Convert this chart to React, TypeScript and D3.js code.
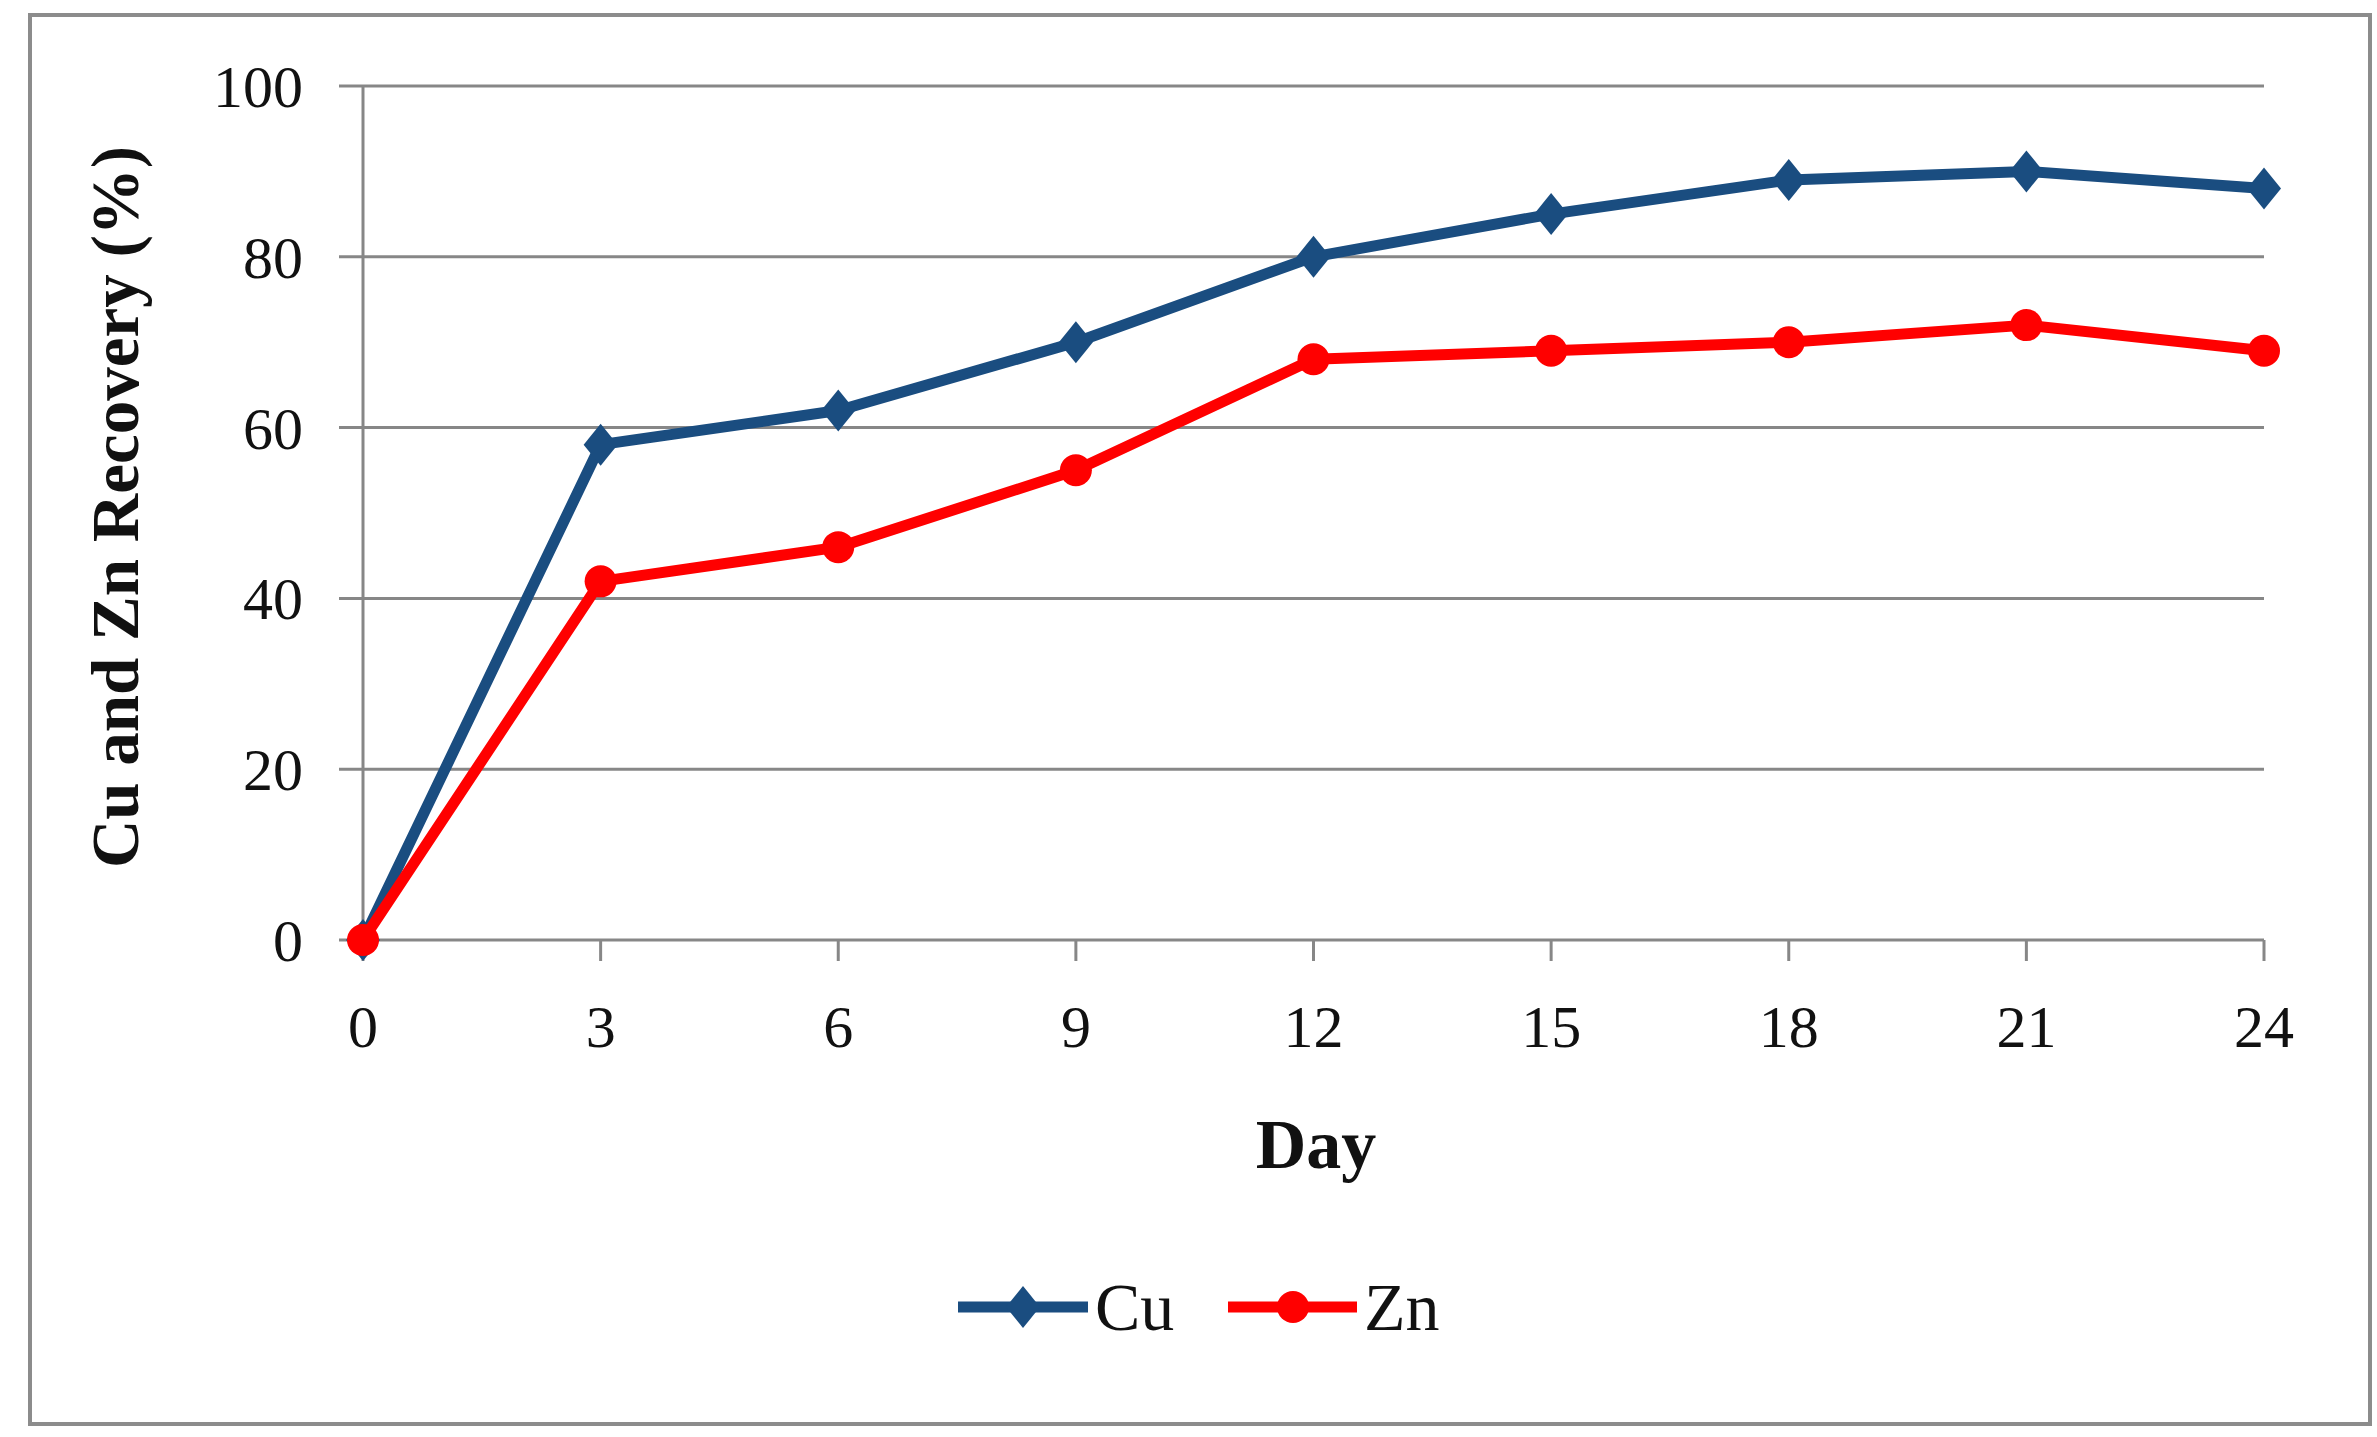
import React from "react";
import * as d3 from "d3";

const days = [0, 3, 6, 9, 12, 15, 18, 21, 24];
const cuValues = [0, 58, 62, 70, 80, 85, 89, 90, 88];
const znValues = [0, 42, 46, 55, 68, 69, 70, 72, 69];
const yTicks = [0, 20, 40, 60, 80, 100];
const xTicks = [0, 3, 6, 9, 12, 15, 18, 21, 24];
const seriesNames = ["Cu", "Zn"];

const W = 2377;
const H = 1437;
const left = 363;
const right = 2264;
const top = 86;
const bottom = 940;

const CU = "#1A4D80";
const ZN = "#FF0000";
const GRID = "#878787";
const FONT = "'Liberation Serif', 'DejaVu Serif', serif";

export default function App() {
  const x = d3.scaleLinear().domain([0, 24]).range([left, right]);
  const y = d3.scaleLinear().domain([0, 100]).range([bottom, top]);
  const line = d3
    .line<number>()
    .x((_, i) => x(days[i]))
    .y((d) => y(d));
  const diamond = (cx: number, cy: number, w: number, h: number) =>
    `M${cx},${cy - h} L${cx + w},${cy} L${cx},${cy + h} L${cx - w},${cy} Z`;

  const legendY = 1307;
  return (
    <svg
      width={W}
      height={H}
      style={{ position: "absolute", left: 0, top: 0, background: "#fff" }}
    >
      <rect x={0} y={0} width={W} height={H} fill="#fff" />
      <rect x={30} y={15} width={2340} height={1409} fill="#fff" stroke="#8c8c8c" strokeWidth={4} />
      {yTicks.map((t) => (
        <g key={"g" + t}>
          <line x1={left - 24} x2={right} y1={y(t)} y2={y(t)} stroke={GRID} strokeWidth={3} />
          <text
            x={303}
            y={y(t)}
            dy="0.35em"
            textAnchor="end"
            fontFamily={FONT}
            fontSize={60}
            fill="#111"
          >
            {t}
          </text>
        </g>
      ))}
      <line x1={left} x2={left} y1={top} y2={bottom} stroke={GRID} strokeWidth={3} />
      {xTicks.map((t) => (
        <g key={"x" + t}>
          <line x1={x(t)} x2={x(t)} y1={bottom} y2={bottom + 21} stroke={GRID} strokeWidth={3} />
          <text
            x={x(t)}
            y={1047}
            textAnchor="middle"
            fontFamily={FONT}
            fontSize={60}
            fill="#111"
          >
            {t}
          </text>
        </g>
      ))}
      <text
        transform={`translate(138,507) rotate(-90)`}
        textAnchor="middle"
        fontFamily={FONT}
        fontWeight="bold"
        fontSize={67}
        fill="#111"
      >
        Cu and Zn Recovery (%)
      </text>
      <text
        x={1316}
        y={1168}
        textAnchor="middle"
        fontFamily={FONT}
        fontWeight="bold"
        fontSize={70}
        fill="#111"
      >
        Day
      </text>
      <path d={line(cuValues) || ""} fill="none" stroke={CU} strokeWidth={11} strokeLinejoin="round" />
      {cuValues.map((v, i) => (
        <path key={"cm" + i} d={diamond(x(days[i]), y(v), 17, 21)} fill={CU} />
      ))}
      <path d={line(znValues) || ""} fill="none" stroke={ZN} strokeWidth={11} strokeLinejoin="round" />
      {znValues.map((v, i) => (
        <circle key={"zm" + i} cx={x(days[i])} cy={y(v)} r={16} fill={ZN} />
      ))}
      <line x1={958} x2={1088} y1={legendY} y2={legendY} stroke={CU} strokeWidth={11} />
      <path d={diamond(1023, legendY, 17, 21)} fill={CU} />
      <text x={1095} y={legendY + 23} fontFamily={FONT} fontSize={68} fill="#111">
        {seriesNames[0]}
      </text>
      <line x1={1228} x2={1357} y1={legendY} y2={legendY} stroke={ZN} strokeWidth={11} />
      <circle cx={1293} cy={legendY} r={16} fill={ZN} />
      <text x={1364} y={legendY + 23} fontFamily={FONT} fontSize={68} fill="#111">
        {seriesNames[1]}
      </text>
    </svg>
  );
}
